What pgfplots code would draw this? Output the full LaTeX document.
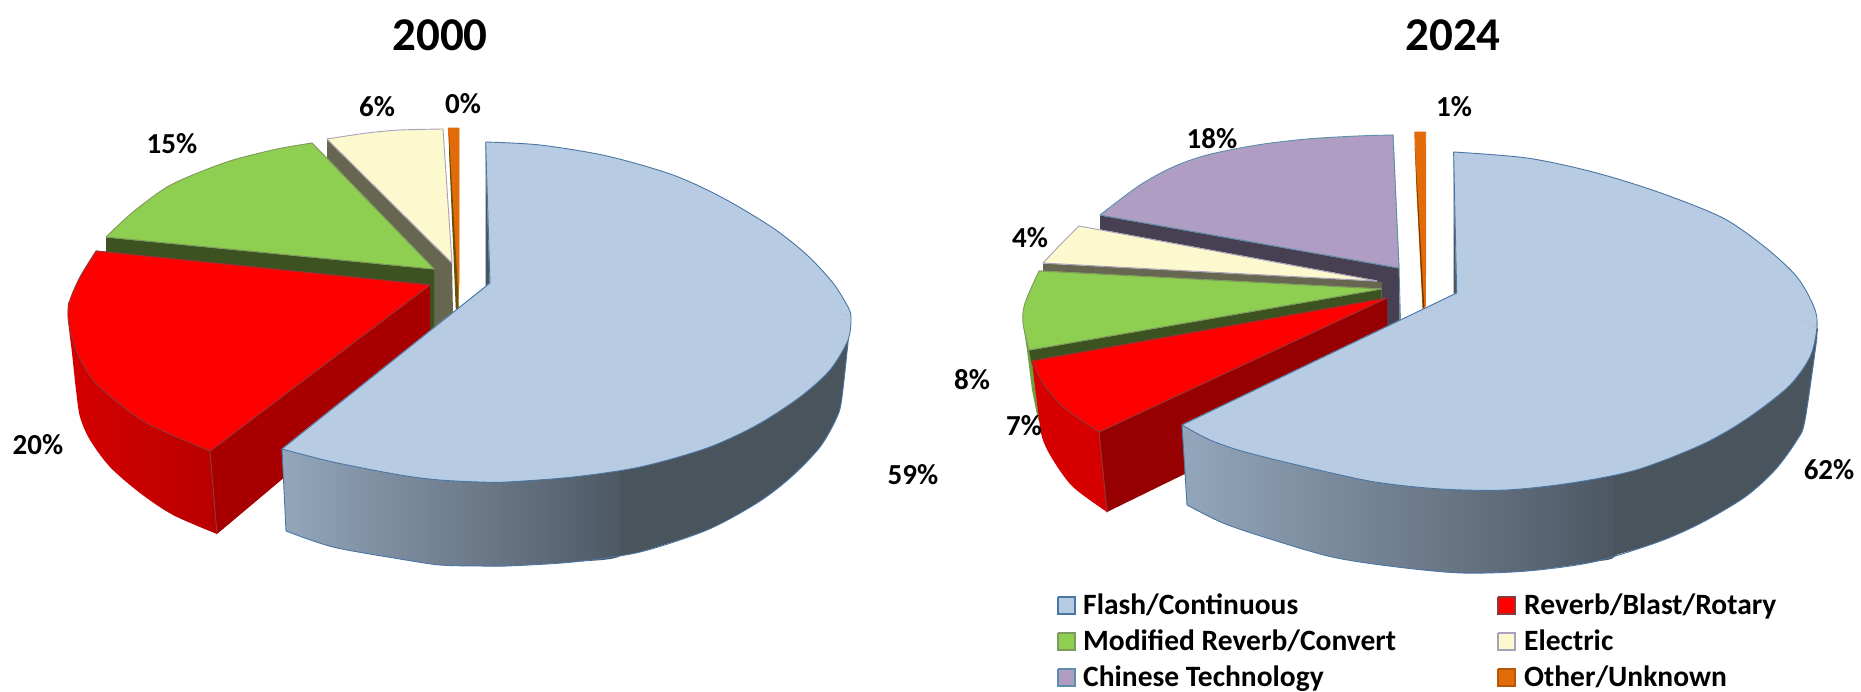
\documentclass[border=0pt]{standalone}
\usepackage{fontspec}
\setmainfont{Carlito}
\usepackage{pgfplots}
\pgfplotsset{compat=1.18}
\definecolor{cblue}{HTML}{B7CCE2}
\definecolor{lblue}{HTML}{4A76A4}
\definecolor{cred}{HTML}{FF0000}
\definecolor{cgreen}{HTML}{8ECE50}
\definecolor{ccream}{HTML}{FCF9CE}
\definecolor{cpurple}{HTML}{B09DC3}
\definecolor{corange}{HTML}{E26B0A}
\definecolor{wblueA}{HTML}{93A6BB}
\definecolor{wblueB}{HTML}{4A5460}
\definecolor{wblueC}{HTML}{4A545C}
\definecolor{taupewall}{HTML}{676650}
\definecolor{greenwall}{HTML}{3C5220}
\definecolor{greenwallB}{HTML}{6F9E3E}
\definecolor{greenline}{HTML}{7F9A60}
\definecolor{redwallB}{HTML}{A80000}
\definecolor{redwallL}{HTML}{D60000}
\definecolor{redwallR}{HTML}{B80000}
\definecolor{redwallD}{HTML}{970000}
\definecolor{redline}{HTML}{8A3A3A}
\definecolor{brownwall}{HTML}{6B3A00}
\definecolor{brownwallA}{HTML}{6B5200}
\definecolor{purplewall}{HTML}{473F52}
\definecolor{tealline}{HTML}{5C8FA8}
\definecolor{creamline}{HTML}{A9A0BE}
\tikzset{face/.style={line width=0.9pt,line join=round},
 seal/.style={line width=0.9pt,line join=round,fill=#1,draw=#1},
 lab/.style={font=\fontsize{29}{30}\selectfont\bfseries,text=black,inner sep=0pt},
 ttl/.style={font=\fontsize{47}{50}\selectfont\bfseries,text=black,inner sep=0pt},
 leg/.style={font=\fontsize{29.5}{30}\selectfont\bfseries,text=black,inner sep=0pt,anchor=base west}}
\begin{document}
\begin{tikzpicture}
\begin{axis}[hide axis,scale only axis,width=1861pt,height=691pt,
 xmin=0,xmax=1861,ymin=0,ymax=691,y dir=reverse,clip=true]
\addplot[draw=none,fill=white] coordinates {(0,0)(1861,0)(1861,691)(0,691)};
% ---------- 2000 ----------
% orange (0%)
\addplot[face,fill=corange,draw=corange] coordinates {(448.3,128)(459,128)(459,280)(458,300)(448.3,128)};
\addplot[fill=brownwallA,draw=none] coordinates {(449,135)(458,290)(459,312)(456,314)(449,150)};
% cream (6%)
\addplot[fill=taupewall,draw=none] coordinates {(327,139)(452,263)(453,315)(436,330)(327,225)};
\addplot[smooth,fill=ccream,draw=none] coordinates {(327,139)(367,133)(400,130)(443,129)};
\addplot[seal=ccream] coordinates {(327,139)(443,129)(452,263)(327,139)};
\addplot[face,smooth,draw=creamline] coordinates {(327,139)(367,133)(400,130)(443,129)};
\addplot[face,draw=creamline] coordinates {(327,139)(452,263)(443,129)};
% green (15%)
\addplot[fill=greenwall,draw=none] coordinates {(106,237)(434,269)(434,345)(106,322)};
\addplot[smooth,fill=cgreen,draw=none] coordinates {(106,237)(133,212)(167,187)(200,172)(233,160)(277,149)(312,143)};
\addplot[seal=cgreen] coordinates {(106,237)(312,143)(434,269)(106,237)};
\addplot[face,smooth,draw=greenline] coordinates {(106,237)(133,212)(167,187)(200,172)(233,160)(277,149)(312,143)};
\addplot[face,draw=greenline] coordinates {(106,237)(434,269)(312,143)};
% red (20%)
\addplot[fill=redwallB,draw=none] coordinates {(210,451)(430,285)(430,355)(217,534)};
\addplot[smooth,draw=none,left color=redwallL,right color=redwallR] coordinates {(217,534)(173,515)(140,493)(110,467)(90,440)(80,417)(76,390)(72,353)(68,317)(72,300)(110,320)(170,400)(205,445)(210,451)};
\addplot[smooth,fill=cred,draw=none] coordinates {(96,251)(80,277)(70,300)(68,317)(72,337)(78,355)(93,380)(117,402)(150,425)(210,451)};
\addplot[seal=cred] coordinates {(96,251)(210,451)(430,285)(96,251)};
\addplot[face,smooth,draw=redline] coordinates {(96,251)(80,277)(70,300)(68,317)(72,337)(78,355)(93,380)(117,402)(150,425)(210,451)};
\addplot[face,draw=redline] coordinates {(96,251)(430,285)(210,451)(217,534)};
% blue (59%)
\addplot[fill=wblueC,draw=none] coordinates {(485.7,142)(490,283)(485.7,286)};
\addplot[smooth,draw=none,left color=wblueA,right color=wblueB] coordinates {(286,531)(333,547)(400,559)(440,565)(480,566)(507,566)(573,562)(622,555)(622,520)(622,470)(500,440)(400,440)(282,449)};
\addplot[smooth,fill=wblueC,draw=none] coordinates {(848,307)(851,320)(849,333)(842,397)(837,417)(820,447)(790,478)(757,503)(707,530)(640,552)(620,555)};
\addplot[seal=wblueC] coordinates {(848,307)(620,470)(620,555)(848,307)};
\addplot[face,smooth,draw=lblue] coordinates {(286,531)(333,547)(400,559)(440,565)(480,566)(507,566)(573,562)(640,552)(707,530)(757,503)(790,478)(820,447)(837,417)(842,397)(849,333)};
\addplot[face,draw=lblue] coordinates {(282,449)(286,531)};
\addplot[smooth,fill=cblue,draw=none] coordinates {(485.7,142)(540,145)(607,156)(673,175)(723,198)(773,228)(807,255)(833,283)(848,307)(851,318)};
\addplot[smooth,fill=cblue,draw=none] coordinates {(851,318)(848,340)(830,370)(800,397)(757,425)(707,448)(640,467)(573,477)(507,482)(480,482)(440,480)(400,475)(333,462)(282,449)};
\addplot[seal=cblue] coordinates {(485.7,142)(850,318)(282,449)(490,283)(485.7,142)};
\addplot[face,smooth,draw=lblue] coordinates {(485.7,142)(540,145)(607,156)(673,175)(723,198)(773,228)(807,255)(833,283)(848,307)(851,318)(848,340)(830,370)(800,397)(757,425)(707,448)(640,467)(573,477)(507,482)(480,482)(440,480)(400,475)(333,462)(282,449)};
\addplot[face,draw=lblue] coordinates {(485.7,142)(490,283)(282,449)};
% ---------- 2024 ----------
% orange (1%)
\addplot[face,fill=corange,draw=corange] coordinates {(1414.7,132)(1425.7,132)(1425.5,305)(1424.5,309)(1423,309)(1417,193)(1414.7,132)};
\addplot[fill=brownwall,draw=none] coordinates {(1414.7,145)(1418.7,210)(1424.2,307)(1423,312)(1417,193)};
% purple (18%)
\addplot[fill=purplewall,draw=none] coordinates {(1100,215)(1399,268)(1400,340)(1375,345)(1100,290)};
\addplot[smooth,fill=cpurple,draw=none] coordinates {(1100,215)(1140,185)(1173,167)(1207,155)(1257,145)(1307,139)(1357,136)(1393,135)};
\addplot[seal=cpurple] coordinates {(1100,215)(1393,135)(1399,268)(1100,215)};
\addplot[face,smooth,draw=tealline] coordinates {(1100,215)(1140,185)(1173,167)(1207,155)(1257,145)(1307,139)(1357,136)(1393,135)};
\addplot[face,draw=tealline] coordinates {(1100,215)(1399,268)(1393,135)};
\addplot[face,draw=tealline] coordinates {(1399,268)(1400.5,321)};
% cream (4%)
\addplot[fill=taupewall,draw=none] coordinates {(1043,263)(1382,282)(1382,300)(1043,280)};
\addplot[smooth,fill=ccream,draw=none] coordinates {(1079,226)(1060,245)(1043,263)};
\addplot[seal=ccream] coordinates {(1079,226)(1043,263)(1377,281)(1079,226)};
\addplot[face,smooth,draw=creamline] coordinates {(1079,226)(1060,245)(1043,263)};
\addplot[face,draw=creamline] coordinates {(1079,226)(1377,281)(1043,263)};
% green (8%)
\addplot[fill=greenwallB,draw=none] coordinates {(1023,323)(1027,350)(1032,390)(1038,420)(1045,420)(1040,360)(1029,350)};
\addplot[fill=greenwall,draw=none] coordinates {(1029,350)(1381,289)(1381,305)(1032,365)};
\addplot[smooth,fill=cgreen,draw=none] coordinates {(1039,271)(1025,303)(1023,323)(1029,350)};
\addplot[seal=cgreen] coordinates {(1039,271)(1029,350)(1381,289)(1039,271)};
\addplot[face,smooth,draw=greenline] coordinates {(1039,271)(1025,303)(1023,323)(1029,350)};
\addplot[face,draw=greenline] coordinates {(1039,271)(1381,289)(1029,350)};
% red (7%)
\addplot[fill=redwallD,draw=none] coordinates {(1099,432)(1387,298)(1387,375)(1107,512)};
\addplot[smooth,fill=redwallL,draw=none] coordinates {(1032,361)(1037,403)(1042,437)(1053,460)(1073,487)(1107,512)};
\addplot[seal=redwallL] coordinates {(1032,361)(1099,432)(1107,512)(1032,361)};
\addplot[smooth,fill=cred,draw=none] coordinates {(1032,361)(1043,383)(1063,407)(1099,432)};
\addplot[seal=cred] coordinates {(1032,361)(1099,432)(1387,298)(1032,361)};
\addplot[face,smooth,draw=redline] coordinates {(1032,361)(1043,383)(1063,407)(1099,432)};
\addplot[face,draw=redline] coordinates {(1032,361)(1387,298)(1099,432)(1107,512)};
% blue (62%)
\addplot[fill=wblueC,draw=none] coordinates {(1453.6,152)(1456.7,293)(1453.6,295)};
\addplot[smooth,draw=none,left color=wblueA,right color=wblueB] coordinates {(1187,505)(1223,523)(1267,538)(1332,557)(1397,567)(1462,573)(1527,571)(1593,562)(1616,555)(1616,520)(1616,474)(1500,450)(1300,440)(1182,425)};
\addplot[smooth,fill=wblueC,draw=none] coordinates {(1814,307)(1817,327)(1817,337)(1805,420)(1797,440)(1775,470)(1745,497)(1701,523)(1658,542)(1614,555.5)};
\addplot[seal=wblueC] coordinates {(1814,307)(1614,474)(1614,555.5)(1814,307)};
\addplot[face,smooth,draw=lblue] coordinates {(1187,505)(1223,523)(1267,538)(1332,557)(1397,567)(1462,573)(1527,571)(1593,562)(1658,542)(1701,523)(1745,497)(1775,470)(1797,440)(1805,420)(1817,337)};
\addplot[face,draw=lblue] coordinates {(1182,425)(1187,505)};
\addplot[smooth,fill=cblue,draw=none] coordinates {(1453.6,152)(1527,158)(1593,172)(1658,192)(1723,218)(1766,248)(1797,277)(1814,307)(1817,327)};
\addplot[smooth,fill=cblue,draw=none] coordinates {(1817,327)(1810,357)(1788,387)(1745,420)(1701,445)(1636,470)(1571,483)(1506,490)(1441,489)(1375,482)(1310,468)(1245,452)(1210,440)(1182,425)};
\addplot[seal=cblue] coordinates {(1453.6,152)(1816,327)(1182,425)(1456.7,293)(1453.6,152)};
\addplot[face,smooth,draw=lblue] coordinates {(1453.6,152)(1527,158)(1593,172)(1658,192)(1723,218)(1766,248)(1797,277)(1814,307)(1817,327)(1810,357)(1788,387)(1745,420)(1701,445)(1636,470)(1571,483)(1506,490)(1441,489)(1375,482)(1310,468)(1245,452)(1210,440)(1182,425)};
\addplot[face,draw=lblue] coordinates {(1453.6,152)(1456.7,293)(1182,425)};
% ---------- legend swatches ----------
\addplot[line width=1.5pt,fill=cblue,draw=lblue] coordinates {(1058,597)(1075,597)(1075,614)(1058,614)(1058,597)};
\addplot[line width=1.5pt,fill=cgreen,draw=greenline] coordinates {(1058,633)(1075,633)(1075,650)(1058,650)(1058,633)};
\addplot[line width=1.5pt,fill=cpurple,draw=tealline] coordinates {(1058,669)(1075,669)(1075,686)(1058,686)(1058,669)};
\addplot[line width=1.5pt,fill=cred,draw=redline] coordinates {(1498,597)(1515,597)(1515,614)(1498,614)(1498,597)};
\addplot[line width=1.5pt,fill=ccream,draw=creamline] coordinates {(1498,633)(1515,633)(1515,650)(1498,650)(1498,633)};
\addplot[line width=1.5pt,fill=corange,draw=corange!80!black] coordinates {(1498,669)(1515,669)(1515,686)(1498,686)(1498,669)};
% ---------- text ----------
\node[ttl] at (axis cs:440,35) {2000};
\node[ttl] at (axis cs:1453,35) {2024};
\node[lab] at (axis cs:377,107) {6\%};
\node[lab] at (axis cs:463,104) {0\%};
\node[lab] at (axis cs:172,144) {15\%};
\node[lab] at (axis cs:38,445) {20\%};
\node[lab] at (axis cs:913,475) {59\%};
\node[lab] at (axis cs:1212,139) {18\%};
\node[lab] at (axis cs:1454,107) {1\%};
\node[lab] at (axis cs:1030,238) {4\%};
\node[lab] at (axis cs:972,380) {8\%};
\node[lab] at (axis cs:1024,426) {7\%};
\node[lab] at (axis cs:1829,470) {62\%};
\node[leg] at (axis cs:1083,614) {Flash/Continuous};
\node[leg] at (axis cs:1083,650) {Modified Reverb/Convert};
\node[leg] at (axis cs:1083,686) {Chinese Technology};
\node[leg] at (axis cs:1524,614) {Reverb/Blast/Rotary};
\node[leg] at (axis cs:1524,650) {Electric};
\node[leg] at (axis cs:1524,686) {Other/Unknown};
\end{axis}
\end{tikzpicture}
\end{document}
